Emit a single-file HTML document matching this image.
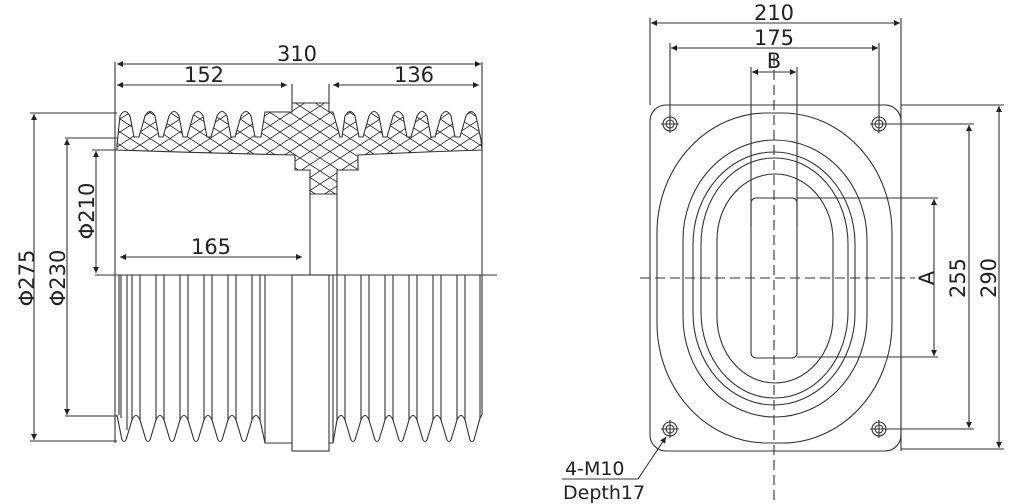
<!DOCTYPE html>
<html><head><meta charset="utf-8"><style>
html,body{margin:0;padding:0;background:#fff;}
svg{display:block;}
text{font-family:"DejaVu Sans","Liberation Sans",sans-serif;fill:#222;}
</style></head><body>
<svg width="1024" height="504" viewBox="0 0 1024 504" xmlns="http://www.w3.org/2000/svg">
<defs>
<marker id="a" viewBox="0 0 10 10" refX="10" refY="5" markerWidth="12" markerHeight="6" orient="auto-start-reverse" markerUnits="userSpaceOnUse"><path d="M0,0 L10,5 L0,10 Z" fill="#222"/></marker>
<pattern id="h" patternUnits="userSpaceOnUse" width="20" height="13" x="0" y="2">
<path d="M0,0 L20,13 M0,13 L20,0" stroke="#333" stroke-width="0.9" fill="none"/>
</pattern>
</defs>
<g stroke="#333" stroke-width="1.1" fill="none">
<path fill="url(#h)" d="M117,150 L117,145 L120,116 Q125,107 130,116 L134,137 L139,137 L145,116 Q150,107 155,116 L159,137 L163,137 L169,116 Q174,107 179,116 L183,137 L187,137 L193,116 Q198,107 203,116 L207,137 L211,137 L217,116 Q222,107 227,116 L231,137 L235,137 L241,116 Q246,107 251,116 L255,137 L261,137 L265,112 L292,112 L292,103 L329,103 L329,112 L333,112 L340,137 L342,137 L345,116 Q350,107 355,116 L359,137 L363,137 L369,116 Q374,107 379,116 L383,137 L387,137 L393,116 Q398,107 403,116 L407,137 L411,137 L417,116 Q422,107 427,116 L431,137 L435,137 L441,116 Q446,107 451,116 L455,137 L460,137 L466,116 Q471,107 476,116 L481,140 L482,150 Q420,152 358,155 L358,170 L337,170 L337,194 L310,194 L310,170 L295,170 L295,155 Q200,153 117,150 Z"/>
<path d="M292,84 L292,103 M329,84 L329,103"/>
<path d="M310,194 L310,275 M337,194 L337,275"/>
<path d="M115,62 L115,443 M482,62 L482,415"/>
<path d="M95,275 L497,275"/>
<path d="M117,415 L122,440 Q124,443 126,440 L132,420 Q136,411 140,420 L146,440 Q148,443 150,440 L156,420 Q160,411 164,420 L170,440 Q172,443 174,440 L180,420 Q184,411 188,420 L194,440 Q196,443 198,440 L204,420 Q208,411 212,420 L218,440 Q220,443 222,440 L228,420 Q232,411 236,420 L242,440 Q244,443 246,440 L252,420 Q256,411 260,420 L265,443 L292,443"/>
<path d="M119,275 V415 M121,275 V418 M127,275 V430 M132,275 V420 M140,275 V420 M156,275 V420 M164,275 V420 M180,275 V420 M188,275 V420 M204,275 V420 M212,275 V420 M228,275 V420 M236,275 V420 M252,275 V420 M260,275 V420 M265,275 V443"/>
<rect x="292" y="275" width="37" height="176"/>
<path d="M329,443 L333,443 L337,420 Q341,411 345,420 L351,440 Q353,443 355,440 L361,420 Q365,411 369,420 L375,440 Q377,443 379,440 L385,420 Q389,411 393,420 L399,440 Q401,443 403,440 L409,420 Q413,411 417,420 L423,440 Q425,443 427,440 L433,420 Q437,411 441,420 L447,440 Q449,443 451,440 L457,420 Q461,411 465,420 L470,440 Q472,443 474,440 L480,418 L482,415"/>
<path d="M333,275 V443 M337,275 V420 M345,275 V420 M361,275 V420 M369,275 V420 M385,275 V420 M393,275 V420 M409,275 V420 M417,275 V420 M433,275 V420 M441,275 V420 M457,275 V420 M465,275 V420 M480,275 V418"/>
<path d="M30,113 L117,113 M65,138 L117,138 M92,150 L117,150 M30,441 L117,441 M65,416 L117,416"/>
<path d="M117,64 L481,64" marker-start="url(#a)" marker-end="url(#a)"/>
<path d="M117,85 L287,85" marker-start="url(#a)" marker-end="url(#a)"/>
<path d="M333,85 L479,85" marker-start="url(#a)" marker-end="url(#a)"/>
<path d="M120,257 L302,257" marker-start="url(#a)" marker-end="url(#a)"/>
<path d="M34,114 L34,440" marker-start="url(#a)" marker-end="url(#a)"/>
<path d="M67,139 L67,415" marker-start="url(#a)" marker-end="url(#a)"/>
<path d="M96,151 L96,273" marker-start="url(#a)" marker-end="url(#a)"/>

<rect x="650" y="105" width="251" height="346" rx="16"/>
<rect x="657" y="113" width="235" height="330" rx="110" ry="120"/>
<rect x="683" y="140" width="184" height="277" rx="92" ry="100"/>
<rect x="693" y="152" width="162" height="253" rx="81" ry="92"/>
<rect x="701" y="158" width="147" height="240" rx="73" ry="86"/>
<rect x="717" y="174" width="116" height="209" rx="58" ry="66"/>
<rect x="751" y="198" width="46" height="160" rx="5"/>
<g>
<circle cx="670" cy="124" r="7"/><circle cx="670" cy="124" r="4"/><path d="M661,124 H679 M670,115 V133"/>
<circle cx="879" cy="124" r="7"/><circle cx="879" cy="124" r="4"/><path d="M870,124 H888 M879,115 V133"/>
<circle cx="670" cy="429" r="7"/><circle cx="670" cy="429" r="4"/><path d="M661,429 H679 M670,420 V438"/>
<circle cx="879" cy="429" r="7"/><circle cx="879" cy="429" r="4"/><path d="M870,429 H888 M879,420 V438"/>
</g>
<path d="M640,278 L915,278 M774,55 L774,500" stroke-dasharray="10,5"/>
<path d="M650,18 L650,105 M901,18 L901,451 M670,43 L670,124 M879,43 L879,124 M751,67 L751,226 M797,67 L797,226"/>
<path d="M901,105 L1004,105 M901,449 L1004,449 M879,124 L974,124 M879,429 L974,429 M797,198 L938,198 M797,357 L938,357"/>
<path d="M651,23 L900,23" marker-start="url(#a)" marker-end="url(#a)"/>
<path d="M671,48 L878,48" marker-start="url(#a)" marker-end="url(#a)"/>
<path d="M752,72 L796,72" marker-start="url(#a)" marker-end="url(#a)"/>
<path d="M999,106 L999,448" marker-start="url(#a)" marker-end="url(#a)"/>
<path d="M969,125 L969,428" marker-start="url(#a)" marker-end="url(#a)"/>
<path d="M934,199 L934,356" marker-start="url(#a)" marker-end="url(#a)"/>
<path d="M562,479 L638,479 L666,437" marker-end="url(#a)"/>
</g>
<g font-size="21" text-anchor="middle">
<text x="297" y="61">310</text>
<text x="204" y="82">152</text>
<text x="414" y="82">136</text>
<text x="211" y="254">165</text>
<text transform="translate(34,278) rotate(-90)">Φ275</text>
<text transform="translate(65,278) rotate(-90)">Φ230</text>
<text transform="translate(94,211) rotate(-90)">Φ210</text>
<text x="774" y="20">210</text>
<text x="774" y="45">175</text>
<text x="774" y="68">B</text>
<text transform="translate(934,278) rotate(-90)">A</text>
<text transform="translate(965,278) rotate(-90)">255</text>
<text transform="translate(996,278) rotate(-90)">290</text>
</g>
<g font-size="19">
<text x="565" y="475">4-M10</text>
<text x="563" y="499">Depth17</text>
</g>
</svg>
</body></html>
